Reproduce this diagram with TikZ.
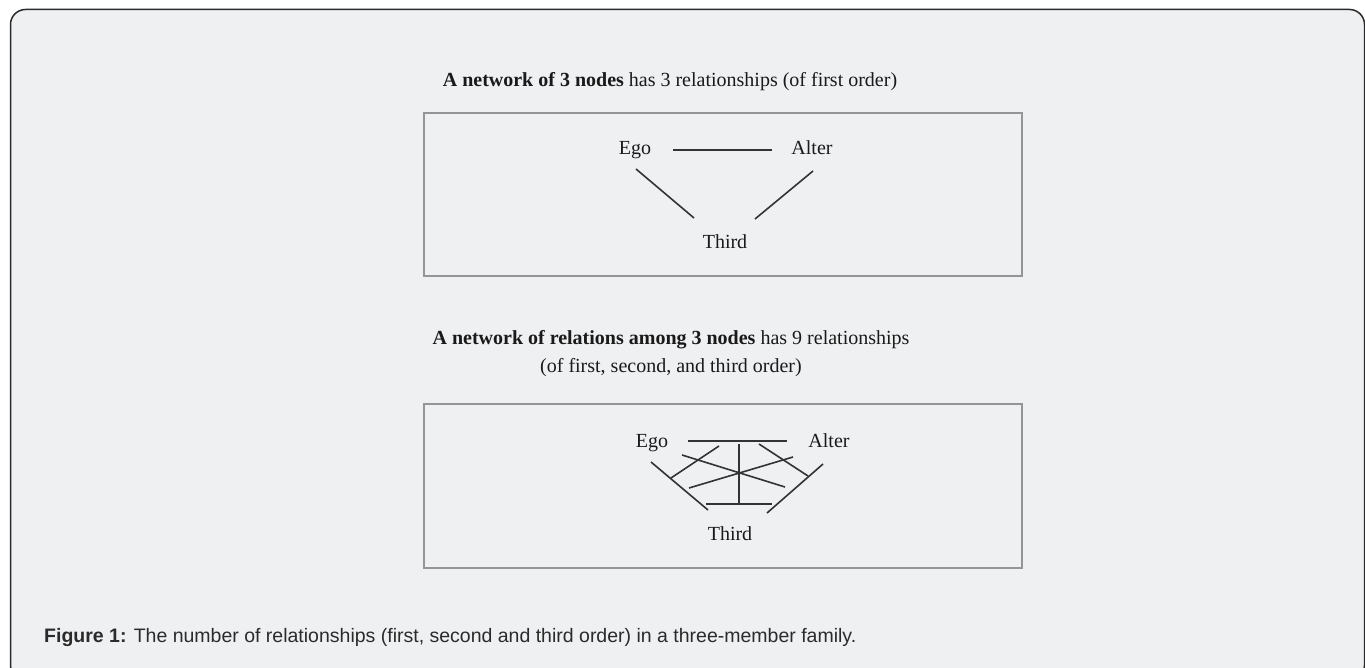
\documentclass[tikz,border=0pt]{standalone}
\usepackage{fontspec}
\setmainfont{Liberation Serif}
\newfontfamily\capfont{Liberation Sans}
\definecolor{bgc}{HTML}{EFF0F2}
\definecolor{framec}{HTML}{2B2B2B}
\definecolor{boxc}{HTML}{959595}
\definecolor{linec}{HTML}{333333}
\definecolor{txtc}{HTML}{1A1A1A}
\tikzset{
  lbl/.style={font=\fontsize{20}{24}\selectfont, text=txtc, inner sep=0pt, anchor=base},
  ttl/.style={font=\fontsize{20}{28}\selectfont, text=txtc, inner sep=0pt, align=center},
  netbox/.style={draw=boxc, line width=2pt},
  rel/.style={draw=linec, line width=1.6pt},
  captext/.style={font=\capfont\fontsize{19.5}{23}\selectfont, text=framec, inner sep=0pt, anchor=west}
}
\begin{document}
\begin{tikzpicture}[x=1pt,y=-1pt]
\useasboundingbox (0,0) rectangle (1365,668);
\fill[white] (0,0) rectangle (1365,668);
\begin{scope}
\clip (0,0) rectangle (1365,668);
\draw[fill=bgc, draw=framec, line width=1.5pt, rounded corners=15pt] (10.5,9.5) rectangle (1364.5,680);
\end{scope}

% titles
\node[ttl] (t1) at (670,82) {\textbf{A network of 3 nodes} has 3 relationships (of first order)};
\node[ttl] (t2) at (671,354) {\textbf{A network of relations among 3 nodes} has 9 relationships\\(of first, second, and third order)};

% boxes
\draw[netbox] (424,113) rectangle (1022,276);
\draw[netbox] (424,404) rectangle (1022,568);

% network 1
\node[lbl] (ego1) at (635,155) {Ego};
\node[lbl] (alter1) at (812,155) {Alter};
\node[lbl] (third1) at (725,249) {Third};
\coordinate (a1) at (673,150); \coordinate (a2) at (772,150);
\coordinate (b1) at (636,169); \coordinate (b2) at (694,218);
\coordinate (c1) at (813,171); \coordinate (c2) at (755,219);
\draw[rel] (a1) -- (a2);
\draw[rel] (b1) -- (b2);
\draw[rel] (c1) -- (c2);

% network 2
\node[lbl] (ego2) at (652,447) {Ego};
\node[lbl] (alter2) at (829,447) {Alter};
\node[lbl] (third2) at (730,540) {Third};
\coordinate (p1) at (688,441); \coordinate (p2) at (787,441);
\coordinate (q1) at (706,504); \coordinate (q2) at (772,504);
\coordinate (r1) at (651,462); \coordinate (r2) at (708,510);
\coordinate (s1) at (823,464); \coordinate (s2) at (767,513);
\coordinate (v1) at (739,444); \coordinate (v2) at (739,504);
\coordinate (u1) at (671,478); \coordinate (u2) at (719,446);
\coordinate (w1) at (808,476); \coordinate (w2) at (759,444);
\coordinate (x1) at (682,455); \coordinate (x2) at (785,487);
\coordinate (y1) at (689,488); \coordinate (y2) at (793,457);
\draw[rel] (p1) -- (p2);
\draw[rel] (q1) -- (q2);
\draw[rel] (r1) -- (r2);
\draw[rel] (s1) -- (s2);
\draw[rel] (v1) -- (v2);
\draw[rel] (u1) -- (u2);
\draw[rel] (w1) -- (w2);
\draw[rel] (x1) -- (x2);
\draw[rel] (y1) -- (y2);

% caption
\node[captext] (caption) at (44,637) {\textbf{Figure 1:} The number of relationships (first, second and third order) in a three-member family.};
\end{tikzpicture}
\end{document}
